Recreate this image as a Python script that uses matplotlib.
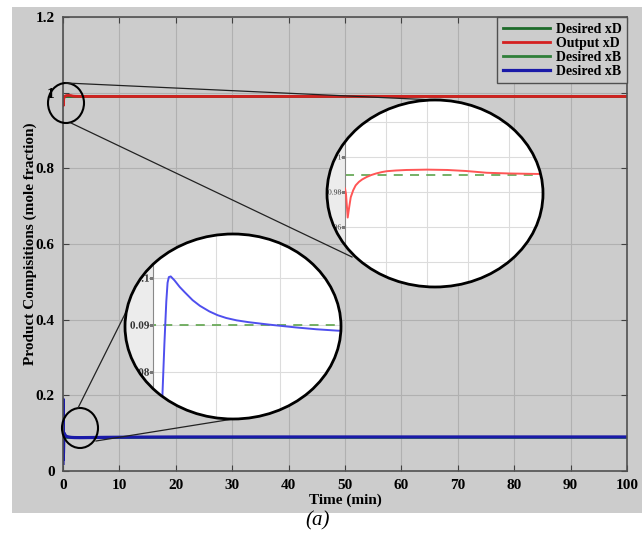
"""
Product compositions of the column under the controller, with two
magnified views (top product xD and bottom product xB) drawn as round
call-outs on the main time plot.
"""

import matplotlib
matplotlib.use("Agg")
import matplotlib.pyplot as plt
from matplotlib.patches import Ellipse, Rectangle, PathPatch
from matplotlib.lines import Line2D
from matplotlib.transforms import Affine2D, IdentityTransform
from matplotlib.ticker import FormatStrFormatter
from matplotlib.textpath import TextPath
from matplotlib.font_manager import FontProperties

# --- data ---
setpoint_time = [0, 100]
desired_xD = [0.99, 0.99]
desired_xB = [0.09, 0.09]

xD_time = [0, 0.012, 0.033, 0.05, 0.07, 0.10, 0.13, 0.17, 0.21, 0.265, 0.32,
           0.38, 0.45, 0.51, 0.62, 0.75, 0.88, 1.0, 1.25, 1.48, 1.73, 2.0,
           2.38, 3.0, 5.0, 10, 100]
xD_output = [0.982, 0.979, 0.9654, 0.971, 0.977, 0.981, 0.9838, 0.9858,
             0.9872, 0.9886, 0.9897, 0.9906, 0.9914, 0.9919, 0.9923, 0.9926,
             0.9927, 0.9928, 0.9926, 0.992, 0.991, 0.9906, 0.9903, 0.9901,
             0.99, 0.99, 0.99]

xB_time = [0, 0.015, 0.03, 0.09, 0.12, 0.14, 0.155, 0.165, 0.175, 0.19, 0.22,
           0.261, 0.30, 0.3625, 0.42, 0.495, 0.56, 0.628, 0.71, 0.808, 0.964,
           1.175, 1.34, 1.51, 2.0, 3.0, 5.0, 8.0, 12.0, 20.0, 40.0, 100.0]
xB_output = [0.02, 0.19, 0.03, 0.05, 0.072, 0.086, 0.095, 0.0990, 0.1002,
             0.10035, 0.0995, 0.0981, 0.0970, 0.0953, 0.0941, 0.0929, 0.0921,
             0.0915, 0.0910, 0.0906, 0.0901, 0.0895, 0.0891, 0.0888, 0.0884,
             0.0882, 0.0885, 0.089, 0.0895, 0.0899, 0.09, 0.09]

legend_labels = ["Desired xD", "Output xD", "Desired xB", "Desired xB"]
x_ticks = list(range(0, 101, 10))
y_ticks = [0, 0.2, 0.4, 0.6, 0.8, 1.0, 1.2]

W, H = 642, 538
GREY = "#cccccc"
SERIF = "Liberation Serif"

plt.rcParams["font.family"] = SERIF

fig = plt.figure(figsize=(W / 100, H / 100), dpi=100, facecolor="white")
# pixel coordinates, origin top-left like the reference image
px = Affine2D().scale(1 / W, -1 / H).translate(0, 1) + fig.transFigure


def rect(l, t, r, b):
    return [l / W, 1 - b / H, (r - l) / W, (b - t) / H]


# grey panel behind the plot
fig.add_artist(Rectangle((12, 7), 630, 506, transform=px, facecolor=GREY,
                         edgecolor="none", zorder=-10))

# --- main axes ---
ax = fig.add_axes(rect(63, 17, 627, 471))
ax.set_facecolor(GREY)
ax.plot(setpoint_time, desired_xD, color="#1d6b2a", lw=2, label=legend_labels[0])
ax.plot(xD_time, xD_output, color="#d42020", lw=2, label=legend_labels[1])
ax.plot(setpoint_time, desired_xB, color="#2f7f3a", lw=2, label=legend_labels[2])
ax.plot(xB_time, xB_output, color="#1a1aa8", lw=2.3, label=legend_labels[3])
ax.set_xlim(0, 100)
ax.set_ylim(0, 1.2)
ax.set_xticks(x_ticks)
ax.set_yticks(y_ticks)
ax.yaxis.set_major_formatter(FormatStrFormatter("%g"))
ax.grid(True, color="#b0b0b0", lw=0.8)
ax.tick_params(direction="in", length=4, top=True, right=True, color="#404040",
               labelsize=11, pad=6)
for lab in ax.get_xticklabels() + ax.get_yticklabels():
    lab.set_fontweight("bold")
for s in ax.spines.values():
    s.set_color("#505050")
    s.set_linewidth(1.2)
ax.set_xlabel("Time (min)", fontsize=11, fontweight="bold", labelpad=1)
ax.set_ylabel("Product Compisitions (mole fraction)", fontsize=11,
              fontweight="bold", labelpad=-1)
leg = ax.legend(loc="upper right", borderaxespad=0, fancybox=False,
                prop={"family": SERIF, "weight": "bold", "size": 10},
                handlelength=3.4, handletextpad=0.4, labelspacing=0.08,
                borderpad=0.4, framealpha=1)
leg.get_frame().set_facecolor(GREY)
leg.get_frame().set_edgecolor("#505050")

fig.text(318 / W, 1 - 521 / H, "(a)", ha="center", va="center",
         fontsize=15, style="italic")


def callout(center, size, ax_rect, xlim, ylim, xticks, yticks, series,
            label_size, label_weight):
    """Round magnified view: white ellipse, clipped inner axes, black rim."""
    ell = Ellipse(center, size[0], size[1], transform=px)
    fig.add_artist(Ellipse(center, size[0], size[1], transform=px,
                           facecolor="#ececec", edgecolor="none", zorder=2))
    inner = fig.add_axes(rect(*ax_rect), zorder=3)
    inner.set_facecolor("white")
    inner.plot(setpoint_time, series[0], color="#6aaa5a", lw=1.3,
               dashes=(5, 4), zorder=2)
    inner.plot(series[1], series[2], color=series[3], lw=1.4, zorder=3)
    inner.set_xlim(*xlim)
    inner.set_ylim(*ylim)
    inner.set_xticks(xticks)
    inner.set_yticks(yticks)
    inner.grid(True, color="#dcdcdc", lw=0.8)
    inner.tick_params(axis="y", direction="out", length=3, color="#777777",
                      labelleft=False)
    inner.tick_params(axis="x", length=0, labelbottom=False)
    for name, s in inner.spines.items():
        s.set_visible(name == "left")
        s.set_color("#888888")
    fig.canvas.draw()
    clip_list = [inner.patch] + list(inner.lines) + list(inner.spines.values())
    for t in inner.xaxis.get_major_ticks() + inner.yaxis.get_major_ticks():
        clip_list += [t.gridline, t.tick1line]
    # Agg cannot clip text to a path, so tick labels are drawn as glyph paths
    prop = FontProperties(family=SERIF, weight=label_weight)
    x_right = inner.transAxes.transform((0, 0))[0] - 4
    for v in yticks:
        y = inner.transData.transform((0, v))[1]
        tp = TextPath((0, 0), "%g" % v, size=label_size * 100 / 72, prop=prop)
        ext = tp.get_extents()
        shift = Affine2D().translate(x_right - ext.x1,
                                     y - (ext.y0 + ext.y1) / 2)
        glyphs = PathPatch(shift.transform_path(tp), transform=IdentityTransform(),
                           facecolor="#333333", edgecolor="none", zorder=3.5)
        fig.add_artist(glyphs)
        clip_list.append(glyphs)
    for a in clip_list:
        a.set_clip_on(True)
        a.set_clip_path(ell)
    fig.add_artist(Ellipse(center, size[0], size[1], transform=px,
                           facecolor="none", edgecolor="black", lw=2,
                           zorder=4))
    return inner


upper = callout((435, 193.5), (216, 187), (345, 100, 545, 287),
                (0, 2.44), (0.9257, 1.0326), [0.5, 1.0, 1.5, 2.0],
                [0.94, 0.96, 0.98, 1.0, 1.02],
                (desired_xD, xD_time, xD_output, "#ff5555"), 5.5, "normal")
lower = callout((233, 326.5), (216, 185), (153, 234, 343, 419),
                (0.05, 1.534), (0.07083, 0.10938), [0.55, 1.05, 1.55],
                [0.07, 0.08, 0.09, 0.1],
                (desired_xB, xB_time, xB_output, "#4f4fee"), 8, "bold")

# small circles on the main plot and the connector lines to the call-outs
for c in [(66, 103), (80, 428)]:
    fig.add_artist(Ellipse(c, 36, 40, transform=px, facecolor="none",
                           edgecolor="black", lw=1.5, zorder=1))
for (x0, y0), (x1, y1) in [((66, 83), (435, 100)), ((71, 123), (352, 257)),
                           ((78, 408), (128, 308)), ((96, 441), (233, 419))]:
    fig.add_artist(Line2D([x0, x1], [y0, y1], transform=px, color="#222222",
                          lw=0.9, zorder=1))

fig.savefig("out.png", dpi=100, facecolor="white")
